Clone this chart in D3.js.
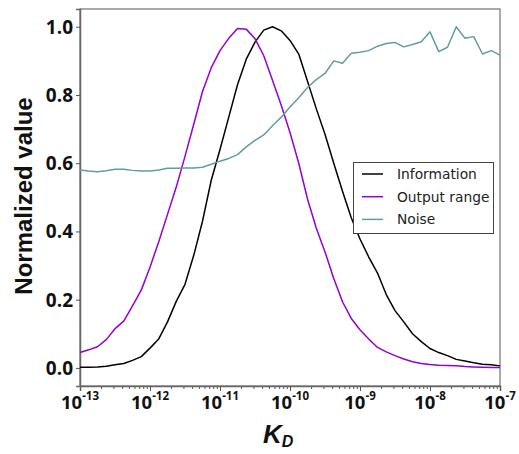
<!DOCTYPE html>
<html>
<head>
<meta charset="utf-8">
<script src="https://cdn.jsdelivr.net/npm/d3@7"></script>
<style>
  body { margin: 0; background: #fff; }
  .tick-label { font-family: "Open Sans", "Liberation Sans", sans-serif; font-weight: bold; fill: #111; }
  .legend text { font-family: "DejaVu Sans", sans-serif; font-size: 13.8px; fill: #222; }
</style>
</head>
<body>
<svg id="chart" width="519" height="454"></svg>
<script>
// log10(K_D) grid, 0.125 decade steps from 1e-13 to 1e-7
const logKd = d3.range(49).map(i => -13 + i * 0.125);

const information = [
  0.002, 0.002, 0.003, 0.005, 0.009, 0.013, 0.022, 0.033, 0.058, 0.085,
  0.135, 0.195, 0.245, 0.33, 0.43, 0.55, 0.64, 0.735, 0.83, 0.905,
  0.955, 0.99, 1.0, 0.988, 0.96, 0.92, 0.84, 0.76, 0.685, 0.6,
  0.518, 0.44, 0.378, 0.325, 0.278, 0.215, 0.168, 0.135, 0.1, 0.077,
  0.057, 0.045, 0.036, 0.025, 0.02, 0.015, 0.011, 0.009, 0.006
];

const outputRange = [
  0.045, 0.053, 0.062, 0.083, 0.115, 0.137, 0.182, 0.228, 0.295, 0.37,
  0.45, 0.53, 0.62, 0.714, 0.81, 0.88, 0.93, 0.966, 0.995, 0.993,
  0.965, 0.915, 0.843, 0.77, 0.69, 0.6, 0.495, 0.41, 0.34, 0.262,
  0.194, 0.145, 0.112, 0.085, 0.06, 0.047, 0.036, 0.026, 0.018, 0.013,
  0.01, 0.008, 0.007, 0.006, 0.004, 0.003, 0.002, 0.001, 0.001
];

const noise = [
  0.58, 0.577, 0.575, 0.578, 0.582, 0.582, 0.579, 0.577, 0.577, 0.58,
  0.585, 0.585, 0.586, 0.586, 0.588, 0.597, 0.606, 0.614, 0.625, 0.648,
  0.667, 0.683, 0.71, 0.735, 0.765, 0.792, 0.822, 0.845, 0.863, 0.9,
  0.893, 0.922, 0.925, 0.93, 0.943, 0.951, 0.954, 0.941, 0.948, 0.956,
  0.985, 0.927, 0.94, 1.0, 0.966, 0.971, 0.92, 0.93, 0.917
];

const seriesNames = ["Information", "Output range", "Noise"];
const seriesColors = ["#000000", "#9400d3", "#5f9ea0"];
const xTickExps = [-13, -12, -11, -10, -9, -8, -7];
const yTicks = [0.0, 0.2, 0.4, 0.6, 0.8, 1.0];

const margin = {top: 9, right: 19, bottom: 68, left: 80};
const width = 519, height = 454;

const svg = d3.select("#chart");

const x = d3.scaleLog()
    .domain([1e-13, 1e-7])
    .range([margin.left, width - margin.right]);

const y = d3.scaleLinear()
    .domain([-0.053, 1.052])
    .range([height - margin.bottom, margin.top]);

// frame
svg.append("rect")
    .attr("x", margin.left)
    .attr("y", margin.top)
    .attr("width", width - margin.right - margin.left)
    .attr("height", height - margin.bottom - margin.top)
    .attr("fill", "none")
    .attr("stroke", "#555")
    .attr("stroke-width", 1);

// x axis with log minor ticks
let minor = [];
xTickExps.forEach(function(e){
    if (e < -7) {
        for (let m = 2; m < 10; m++) minor.push(m * Math.pow(10, e));
    }
});

let xAxisG = svg.append("g")
    .attr("transform", "translate(0," + (height - margin.bottom) + ")");

xAxisG.append("g")
    .call(d3.axisBottom(x).tickValues(minor).tickSize(3).tickFormat(""))
    .call(g => g.select(".domain").remove())
    .selectAll("line").attr("stroke", "#555");

xAxisG.append("g")
    .call(d3.axisBottom(x).tickValues(xTickExps.map(e => Math.pow(10, e))).tickSize(5).tickFormat(""))
    .call(g => g.select(".domain").attr("stroke", "#666").attr("stroke-width", 1.5))
    .selectAll("line").attr("stroke", "#555");

let xLabels = svg.append("g").selectAll("text").data(xTickExps);
xLabels.enter().append("text")
    .attr("class", "tick-label")
    .attr("x", d => x(Math.pow(10, d)))
    .attr("y", 408.5)
    .attr("text-anchor", "middle")
    .style("font-size", "18.5px")
    .each(function(d){
        let t = d3.select(this);
        t.append("tspan").text("10");
        t.append("tspan").attr("dy", -9).style("font-size", "11.5px").text(d);
    });

// y axis
svg.append("g")
    .attr("transform", "translate(" + margin.left + ",0)")
    .call(d3.axisLeft(y).tickValues(yTicks).tickSize(4).tickFormat(""))
    .call(g => g.select(".domain").attr("stroke", "#666").attr("stroke-width", 1.5))
    .selectAll("line").attr("stroke", "#555");

svg.append("g").selectAll("text").data(yTicks).enter().append("text")
    .attr("class", "tick-label")
    .attr("x", 73)
    .attr("y", d => y(d))
    .attr("dy", "0.36em")
    .attr("text-anchor", "end")
    .style("font-size", "19px")
    .text(d => d.toFixed(1));

// axis titles
svg.append("text")
    .attr("transform", "translate(32,196) rotate(-90)")
    .attr("text-anchor", "middle")
    .style("font-family", "'Liberation Sans', Arial, sans-serif")
    .style("font-weight", "bold")
    .style("font-size", "24px")
    .attr("fill", "#111")
    .text("Normalized value");

let kd = svg.append("text")
    .attr("x", 263)
    .attr("y", 443)
    .style("font-family", "'Liberation Sans', Arial, sans-serif")
    .style("font-weight", "bold")
    .style("font-style", "italic")
    .attr("fill", "#111");
kd.append("tspan").style("font-size", "26px").text("K");
kd.append("tspan").attr("dy", 4).style("font-size", "16px").text("D");

// curves
const allSeries = [information, outputRange, noise];
const line = d3.line()
    .x((d, i) => x(Math.pow(10, logKd[i])))
    .y(d => y(d));

svg.append("g").selectAll("path").data(allSeries).enter().append("path")
    .attr("d", d => line(d))
    .attr("fill", "none")
    .attr("stroke", (d, i) => seriesColors[i])
    .attr("stroke-width", 1.5)
    .attr("stroke-linejoin", "round");

// legend
let legend = svg.append("g").attr("class", "legend");
legend.append("rect")
    .attr("x", 353.5).attr("y", 162.5)
    .attr("width", 140).attr("height", 71)
    .attr("fill", "#fff")
    .attr("stroke", "#444")
    .attr("stroke-width", 1);

let items = legend.selectAll("g.item").data(seriesNames).enter().append("g")
    .attr("class", "item")
    .attr("transform", (d, i) => "translate(0," + (174 + i * 22.7) + ")");
items.append("line")
    .attr("x1", 362).attr("x2", 383)
    .attr("stroke", (d, i) => seriesColors[i])
    .attr("stroke-width", 1.5);
items.append("text")
    .attr("x", 397)
    .attr("dy", "0.36em")
    .text(d => d);
</script>
</body>
</html>
